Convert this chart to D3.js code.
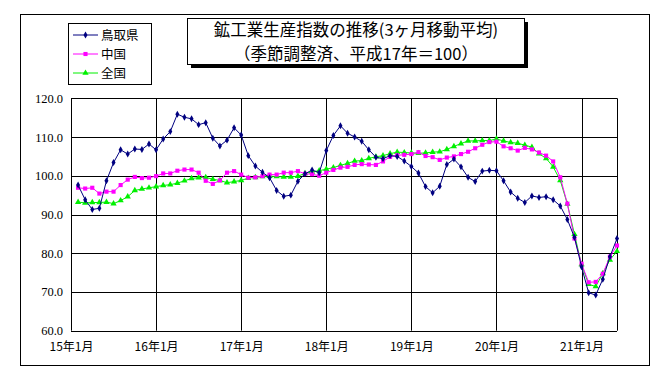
<!DOCTYPE html>
<html><head><meta charset="utf-8">
<script src="https://cdn.jsdelivr.net/npm/d3@7"></script>
<style>
body{margin:0;background:#fff;}
svg{display:block;}
</style></head>
<body>
<svg id="chart" width="672" height="377"></svg>
<script>
// months since 2015-01 (data start 2015-02 .. 2021-06)
const startMonth = 1;
const tottori = [97.6,93.8,91.3,91.6,98.7,103.4,106.7,105.6,106.9,106.8,108.2,106.7,
109.5,111.4,115.9,115.1,114.7,113.2,113.7,109.7,107.7,109.2,112.4,110.5,
105.2,102.5,100.9,99.5,96.2,94.7,95.0,98.6,100.5,101.5,100.8,106.5,
110.4,112.9,111.0,110.0,108.9,106.7,104.8,104.4,105.2,105.0,103.8,102.4,
100.7,97.2,95.6,97.3,102.9,104.3,102.3,99.6,98.5,101.2,101.4,101.3,
98.7,95.8,94.2,93.1,94.8,94.4,94.6,93.8,92.2,88.7,84.1,76.5,
69.8,69.2,73.3,79.1,83.8];
const chugoku = [96.9,96.7,96.9,95.4,95.9,95.9,97.6,99.0,99.7,99.4,99.5,99.9,
100.6,100.6,101.3,101.6,101.6,100.8,98.7,97.9,98.8,100.8,101.2,100.3,
99.5,99.6,99.9,100.3,100.3,100.8,100.8,101.2,100.5,100.4,100.0,100.8,
101.5,102.1,102.3,102.8,103.0,102.9,102.8,103.7,104.9,105.3,105.4,105.6,
106.1,105.1,104.8,104.1,104.7,105.0,105.6,106.2,107.1,108.0,108.7,108.8,
107.6,107.1,106.5,107.2,106.8,106.0,105.2,103.7,99.6,92.8,83.8,77.3,
72.5,72.6,74.7,79.1,82.0];
const zenkoku = [93.2,93.0,93.1,93.1,93.2,92.8,93.6,94.6,96.2,96.6,96.9,97.2,
97.5,97.7,98.1,98.7,99.3,99.5,99.6,99.1,98.8,98.2,98.5,98.8,
99.4,99.6,99.8,99.9,99.8,99.7,99.7,99.9,100.6,101.0,101.3,101.7,
102.1,102.7,103.2,103.8,103.9,104.5,104.9,105.2,105.7,106.1,106.0,105.9,
105.8,105.9,106.1,106.2,106.8,107.6,108.3,109.0,109.0,109.1,109.1,109.5,
109.0,108.6,108.4,107.9,107.4,105.7,104.5,102.3,98.8,92.7,84.9,77.1,
72.0,71.4,74.8,78.3,80.5];
const seriesNames = ["鳥取県","中国","全国"];
const seriesColors = ["#000080","#ff00ff","#00f000"];
const xTickLabels = ["15年1月","16年1月","17年1月","18年1月","19年1月","20年1月","21年1月"];
const xTickMonths = [0,12,24,36,48,60,72];
const yTicks = [60,70,80,90,100,110,120];
const titleLines = ["鉱工業生産指数の推移(3ヶ月移動平均)","（季節調整済、平成17年＝100）"];

const svg = d3.select("#chart");
const L = 71, R = 617, T = 98.3, B = 330.7;
const x = d3.scaleLinear().domain([0, 77]).range([L, R]);
const y = d3.scaleLinear().domain([60, 120]).range([B, T]);

// outer frame
svg.append("rect").attr("x",20.5).attr("y",14.5).attr("width",629).attr("height",351)
  .attr("fill","#fff").attr("stroke","#000").attr("stroke-width",1);

// gridlines
const g = svg.append("g");
g.selectAll(".hg").data(yTicks).join("line")
  .attr("x1",L).attr("x2",R).attr("y1",d=>Math.round(y(d))+0.5).attr("y2",d=>Math.round(y(d))+0.5)
  .attr("stroke","#000").attr("stroke-width",1);
g.selectAll(".vg").data(xTickMonths.concat([77])).join("line")
  .attr("x1",d=>Math.round(x(d))+0.5).attr("x2",d=>Math.round(x(d))+0.5)
  .attr("y1",T).attr("y2",B).attr("stroke","#000").attr("stroke-width",1);

// y axis labels
const yAxis = d3.axisLeft(y).tickValues(yTicks).tickSize(0).tickPadding(8).tickFormat(d3.format(".1f"));
const ya = svg.append("g").attr("transform",`translate(${L},0)`).call(yAxis);
ya.select(".domain").remove();
ya.selectAll("text").attr("font-family","'Liberation Serif','DejaVu Serif',serif").attr("font-size",12.5).attr("fill","#000");

// x axis labels
const xAxis = d3.axisBottom(x).tickValues(xTickMonths).tickSize(0).tickPadding(12)
  .tickFormat((d,i)=>xTickLabels[i]);
const xa = svg.append("g").attr("transform",`translate(0,${B})`).call(xAxis);
xa.select(".domain").remove();
xa.selectAll("text").attr("font-family","'Noto Sans CJK JP',sans-serif").attr("font-size",12).attr("fill","#000");

// series
const allSeries = [tottori, chugoku, zenkoku];
const line = d3.line().x((d,i)=>x(startMonth+i)).y(d=>y(d));
const symbols = [d3.symbolDiamond, d3.symbolSquare, d3.symbolTriangle];
const symSizes = [14, 17, 17];
[2,1,0].forEach(k=>{
  const data = allSeries[k];
  svg.append("path").datum(data).attr("d",line).attr("fill","none")
    .attr("stroke",seriesColors[k]).attr("stroke-width",1);
  svg.append("g").selectAll("path").data(data).join("path")
    .attr("d",d3.symbol(symbols[k],symSizes[k]))
    .attr("transform",(d,i)=>`translate(${x(startMonth+i)},${y(d)})`)
    .attr("fill",seriesColors[k]);
});

// legend
const lg = svg.append("g");
lg.append("rect").attr("x",68.5).attr("y",23.5).attr("width",83).attr("height",61)
  .attr("fill","#fff").attr("stroke","#000");
seriesNames.forEach((n,k)=>{
  const yy = 35 + k*19;
  lg.append("line").attr("x1",73).attr("x2",98).attr("y1",yy).attr("y2",yy)
    .attr("stroke",seriesColors[k]).attr("stroke-width",1);
  lg.append("path").attr("d",d3.symbol(symbols[k],symSizes[k])).attr("transform",`translate(85.5,${yy})`)
    .attr("fill",seriesColors[k]);
  lg.append("text").attr("x",101).attr("y",yy).attr("dy","0.36em").text(n)
    .attr("font-family","'Noto Sans CJK JP',sans-serif").attr("font-size",12.5).attr("fill","#000");
});

// title box with shadow
svg.append("rect").attr("x",191).attr("y",22).attr("width",337).attr("height",46).attr("fill","#000");
svg.append("rect").attr("x",187.5).attr("y",18.5).attr("width",337).attr("height",46)
  .attr("fill","#fff").attr("stroke","#000");
titleLines.forEach((t,i)=>{
  svg.append("text").attr("x",356).attr("y",30+i*24).attr("dy","0.36em").attr("text-anchor","middle")
    .attr("font-family","'Noto Sans CJK JP',sans-serif").attr("font-size",16.5).attr("fill","#000").text(t);
});
</script>
</body></html>
